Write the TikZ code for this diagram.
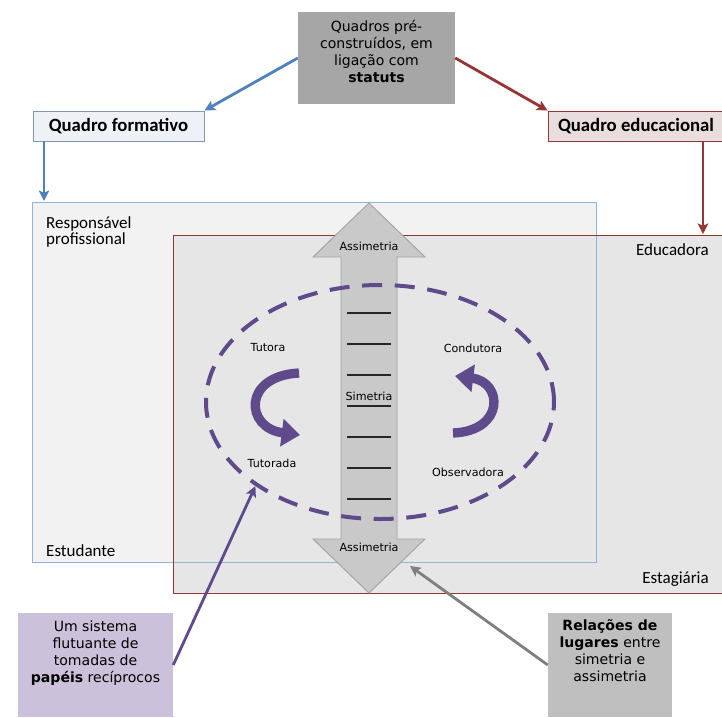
\documentclass[tikz,border=0pt]{standalone}
\usepackage{fontspec}
\setmainfont{DejaVu Sans}
\newfontfamily\calfont{Carlito}
\usetikzlibrary{
  arrows.meta,
  shapes.geometric,
  calc,
}
\definecolor{blueLine}{HTML}{4F81BD}
\definecolor{redLine}{HTML}{943634}
\definecolor{purpleLine}{HTML}{5F4B8B}
\definecolor{grayLine}{HTML}{7F7F7F}
\definecolor{fillPre}{HTML}{A6A6A6}
\definecolor{fillForm}{HTML}{EEF1F6}
\definecolor{edgeForm}{HTML}{8197BA}
\definecolor{fillEduc}{HTML}{E9DDDD}
\definecolor{edgeFrameA}{HTML}{95B3D7}
\definecolor{fillFrameA}{HTML}{F2F2F2}
\definecolor{fillFrameB}{HTML}{E6E6E6}
\definecolor{fillRoles}{HTML}{CCC1DA}
\definecolor{fillPlaces}{HTML}{BFBFBF}
\definecolor{fillShaft}{HTML}{C9C9C9}
\definecolor{edgeShaft}{HTML}{A3A3A3}
\tikzset{
  boxtext/.style={font=\fontsize{12}{14.5}\selectfont, align=center, inner sep=0pt},
  prebox/.style={
    rectangle, fill=fillPre,
    minimum width=157*0.03cm, minimum height=92*0.03cm,
  },
  quadrobox/.style={
    rectangle, line width=0.8pt, font=\calfont\fontsize{16}{18}\selectfont\bfseries,
    minimum height=30*0.03cm, inner sep=0pt,
  },
  frametext/.style={font=\calfont\fontsize{14.5}{14}\selectfont, inner sep=0pt},
  roletext/.style={font=\fontsize{9.5}{10}\selectfont, inner sep=0pt},
  notebox/.style={rectangle, minimum width=155*0.03cm, minimum height=104*0.03cm},
  linkarrow/.style={-{Stealth[length=9pt, width=9pt, inset=2pt]}, line width=2.4pt},
  turnarrow/.style={purpleLine, line width=0.28cm, -{Triangle[length=0.55cm, width=0.8cm]}},
  rung/.style={line width=1.8pt, black!85},
}

\begin{document}
\begin{tikzpicture}[x=0.03cm, y=-0.03cm]

  \fill[white] (0,0) rectangle (722,717);
  \useasboundingbox (0,0) rectangle (722,717);

  % Top row
  \node[prebox] (qpre) at (376.5,58) {};
  \node[boxtext, anchor=north] (qpreTxt) at (376.5,20) {Quadros pré-\\construídos, em\\ligação com\\\textbf{statuts}};
  \node[quadrobox, draw=edgeForm, fill=fillForm, minimum width=171*0.03cm] (qform) at (118.5,126) {Quadro formativo};
  \node[quadrobox, draw=redLine, fill=fillEduc, minimum width=176*0.03cm] (qeduc) at (636,126) {Quadro educacional};

  \draw[linkarrow, blueLine] (qpre.west) -- (qform.north east);
  \draw[linkarrow, redLine] (qpre.east) -- (qeduc.north west);

  % Frames
  \node[rectangle, fill=fillFrameA, minimum width=563*0.03cm, minimum height=359*0.03cm] (profFrame) at (314.5,382.5) {};
  \node[rectangle, fill=fillFrameB, minimum width=551*0.03cm, minimum height=357*0.03cm] (eduFrame) at (449.5,414.5) {};
  \draw[edgeFrameA, line width=0.8pt] (profFrame.south west) rectangle (profFrame.north east);
  \draw[redLine, line width=0.8pt] (eduFrame.south west) rectangle (eduFrame.north east);

  \coordinate (formTop) at (44,201);
  \coordinate (educTop) at (703,234);
  \draw[linkarrow, blueLine] (qform.south west -| formTop) -- (formTop);
  \draw[linkarrow, redLine] (qeduc.south -| educTop) -- (educTop);

  \node[frametext, anchor=north west, align=left] (profTxt) at (46,216) {Responsável\\profissional};
  \node[frametext, anchor=west] (studTxt) at (46,551) {Estudante};
  \node[frametext, anchor=east] (educTxt) at (709,250) {Educadora};
  \node[frametext, anchor=east] (stagTxt) at (709,579) {Estagiária};

  % Double arrow
  \filldraw[fill=fillShaft, draw=edgeShaft, line width=0.8pt]
    (369,203) -- (425,257) -- (397,257) -- (397,539) -- (425,539) -- (369,593)
    -- (313,539) -- (341,539) -- (341,257) -- (313,257) -- cycle;
  \foreach \y in {313,344,...,499}
    \draw[rung] (347,\y) -- (391,\y);
  \node[roletext] (asymTop) at (369,246) {Assimetria};
  \node[roletext] (asymLow) at (369,547) {Assimetria};
  \node[roletext] (symMid) at (369,396) {Simetria};

  % Roles
  \node[ellipse, draw=purpleLine, line width=0.12cm, dash pattern=on 0.6cm off 0.38cm,
    minimum width=348*0.03cm, minimum height=234*0.03cm] (ring) at (380,402) {};
  \node[roletext] (tutora) at (268,348) {Tutora};
  \node[roletext] (tutorada) at (272,463) {Tutorada};
  \node[roletext] (condutora) at (473,348) {Condutora};
  \node[roletext] (observadora) at (468,472) {Observadora};
  \draw[turnarrow] (299,373) .. controls (242,376) and (245,428) .. (300,435);
  \draw[turnarrow] (453,433) .. controls (505,431) and (503,382) .. (455,376);

  % Bottom notes
  \node[notebox, fill=fillRoles] (rolesBox) at (95.5,665) {};
  \node[boxtext, anchor=north] (rolesTxt) at (95.5,621) {Um sistema\\flutuante de\\tomadas de\\\textbf{papéis} recíprocos};
  \node[notebox, fill=fillPlaces, minimum width=124*0.03cm] (placesBox) at (610,665) {};
  \node[boxtext, anchor=north] (placesTxt) at (610,619) {\textbf{Relações de}\\\textbf{lugares} entre\\simetria e\\assimetria};

  \coordinate (lowTip) at (410,566);
  \draw[linkarrow, purpleLine] (rolesBox.east) -- (ring.214);
  \draw[linkarrow, grayLine] (placesBox.west) -- (lowTip);

\end{tikzpicture}
\end{document}
